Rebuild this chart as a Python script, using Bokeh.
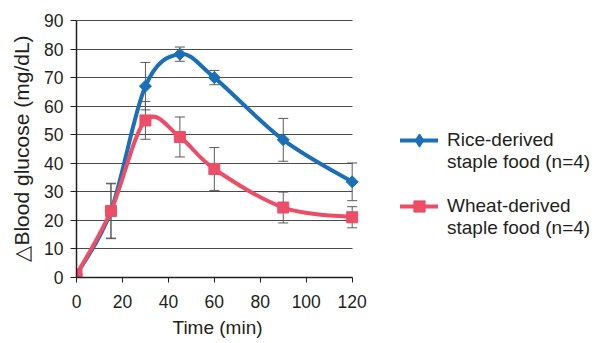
import numpy as np
from bokeh.plotting import figure
from bokeh.models import (ColumnDataSource, Whisker, TeeHead, Legend, LegendItem,
                          FixedTicker, Range1d, Title)
from bokeh.embed import file_html
from bokeh.resources import INLINE

# ---- data ----
time_min = [0, 15, 30, 45, 60, 90, 120]
rice_mean = [1.0, 23.3, 67.0, 78.2, 70.0, 48.2, 33.5]
rice_sd = [0.0, 9.7, 8.3, 2.5, 2.5, 7.5, 6.6]
wheat_mean = [1.0, 23.3, 55.0, 49.2, 38.0, 24.5, 21.1]
wheat_sd = [0.0, 9.5, 6.6, 7.0, 7.5, 5.4, 3.7]
x_ticks = [0, 20, 40, 60, 80, 100, 120]
y_ticks = [0, 10, 20, 30, 40, 50, 60, 70, 80, 90]
rice_label = ["Rice-derived", "staple food (n=4)"]
wheat_label = ["Wheat-derived", "staple food (n=4)"]
x_label = "Time (min)"
y_label = "△Blood glucose (mg/dL)"

BLUE = "#1b6fb7"
RED = "#ec4d67"
TXT = "#231f20"
GRID = "#4a4a4a"
FONT = "Liberation Sans"


def smooth(xs, ys, t=1.0 / 6.0):
    """Bezier segments through the data points (spreadsheet-style smoothing)."""
    n = len(xs)
    seg = dict(x0=[], y0=[], x1=[], y1=[], cx0=[], cy0=[], cx1=[], cy1=[])
    for i in range(n - 1):
        a = max(i - 1, 0)
        b = min(i + 2, n - 1)
        seg["x0"].append(xs[i]); seg["y0"].append(ys[i])
        seg["x1"].append(xs[i + 1]); seg["y1"].append(ys[i + 1])
        seg["cx0"].append(xs[i] + (xs[i + 1] - xs[a]) * t)
        seg["cy0"].append(ys[i] + (ys[i + 1] - ys[a]) * t)
        seg["cx1"].append(xs[i + 1] - (xs[b] - xs[i]) * t)
        seg["cy1"].append(ys[i + 1] - (ys[b] - ys[i]) * t)
    return ColumnDataSource(seg)


def legend_text(lines):
    # an empty line on top keeps the glyph level with the first text line
    return " \n" + "\n".join(lines)


# the frame is widened to the right so that the legend sits inside it;
# the axis and grid lines are bounded to the data extent (0..120, 0..90)
p = figure(width=603, height=343,
           x_range=Range1d(0, 229.4), y_range=Range1d(0, 90.34),
           output_backend="svg", toolbar_location=None,
           min_border_left=76, min_border_right=0,
           min_border_top=19, min_border_bottom=66)
p.outline_line_color = None
p.background_fill_color = "white"
p.border_fill_color = "white"

# grid
p.xgrid.visible = False
p.ygrid.ticker = FixedTicker(ticks=y_ticks)
p.ygrid.grid_line_color = GRID
p.ygrid.grid_line_width = 1
p.ygrid.cross_bounds = (0, 120)

# axes
p.xaxis.ticker = FixedTicker(ticks=x_ticks)
p.yaxis.ticker = FixedTicker(ticks=y_ticks)
p.xaxis.bounds = (0, 120)
p.yaxis.bounds = (0, 90)
for ax in (p.xaxis, p.yaxis):
    ax.axis_line_color = TXT
    ax.axis_line_width = 1.5
    ax.major_tick_line_color = TXT
    ax.major_tick_line_width = 1
    ax.minor_tick_line_color = None
    ax.major_tick_in = 0
    ax.major_label_text_font = FONT
    ax.major_label_text_font_size = "17.5px"
    ax.major_label_text_color = TXT
    ax.axis_label_text_font = FONT
    ax.axis_label_text_font_style = "normal"
    ax.axis_label_text_color = TXT
p.xaxis.major_tick_out = 5
p.yaxis.major_tick_out = 6
p.xaxis.major_label_standoff = 12
p.yaxis.major_label_standoff = 7
p.yaxis.axis_label = y_label
p.yaxis.axis_label_text_font_size = "21px"
p.yaxis.axis_label_standoff = 8

# x-axis title, centred under the data extent of the x axis
p.add_layout(Title(text=x_label, align="left", offset=96, standoff=8,
                   text_font=FONT, text_font_size="19px", text_font_style="normal",
                   text_color=TXT), "below")

# error bars
for means, sds in ((rice_mean, rice_sd), (wheat_mean, wheat_sd)):
    xs = [x for x, s in zip(time_min, sds) if s > 0]
    up = [m + s for m, s in zip(means, sds) if s > 0]
    lo = [m - s for m, s in zip(means, sds) if s > 0]
    src = ColumnDataSource(dict(x=xs, upper=up, lower=lo))
    w = Whisker(base="x", upper="upper", lower="lower", source=src,
                line_color="#5a5a5a", line_width=1,
                upper_head=TeeHead(size=10, line_color="#5a5a5a", line_width=1),
                lower_head=TeeHead(size=10, line_color="#5a5a5a", line_width=1))
    p.add_layout(w)

# series
rice_line = p.bezier(x0="x0", y0="y0", x1="x1", y1="y1", cx0="cx0", cy0="cy0",
                     cx1="cx1", cy1="cy1", source=smooth(time_min, rice_mean),
                     line_color=BLUE, line_width=4, line_cap="round")
p.scatter(time_min, rice_mean, marker="square", angle=np.pi / 4, size=8.5,
          fill_color=BLUE, line_color=BLUE, line_width=1)
wheat_line = p.bezier(x0="x0", y0="y0", x1="x1", y1="y1", cx0="cx0", cy0="cy0",
                      cx1="cx1", cy1="cy1", source=smooth(time_min, wheat_mean),
                      line_color=RED, line_width=4, line_cap="round")
wheat_pts = p.scatter(time_min, wheat_mean, marker="square", size=11,
                      fill_color=RED, line_color=RED, line_width=1)

# hidden renderer that only supplies the diamond legend glyph
rice_leg_mark = p.scatter(time_min, rice_mean, marker="diamond",
                          fill_color=BLUE, line_color=BLUE, line_width=2,
                          line_join="round", visible=False)

legend = Legend(items=[LegendItem(label=legend_text(rice_label),
                                  renderers=[rice_line, rice_leg_mark]),
                       LegendItem(label=legend_text(wheat_label),
                                  renderers=[wheat_line, wheat_pts])],
                location=(324, 38), orientation="vertical",
                border_line_color=None, background_fill_alpha=0,
                inactive_fill_alpha=0,
                padding=0, margin=0, spacing=0,
                glyph_width=38, glyph_height=28, label_height=21,
                label_standoff=9,
                label_text_font=FONT, label_text_font_size="19px",
                label_text_color=TXT)
p.add_layout(legend)

open("out.html", "w").write(file_html(p, INLINE))
